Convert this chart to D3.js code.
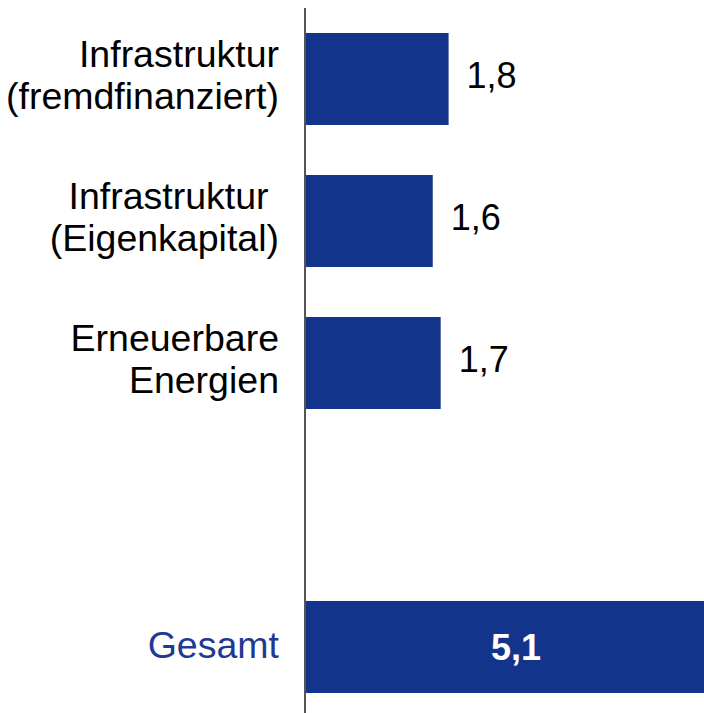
<!DOCTYPE html>
<html>
<head>
<meta charset="utf-8">
<script src="https://cdn.jsdelivr.net/npm/d3@7"></script>
<style>
  body { margin: 0; background: #fff; }
  svg { display: block; font-family: "Liberation Sans", Arial, sans-serif; }
</style>
</head>
<body>
<div id="chart"></div>
<script>
var svgWidth = 704;
var svgHeight = 713;

// categories (line-broken labels), values, value labels
var categories = ["infra_fremd", "infra_eigen", "erneuerbar", "blank", "gesamt"];
var labelLines = [
  ["Infrastruktur", "(fremdfinanziert)"],
  ["Infrastruktur\u00a0", "(Eigenkapital)"],
  ["Erneuerbare", "Energien"],
  [],
  ["Gesamt"]
];
var values = [1.8, 1.6, 1.7, null, 5.1];
var valueLabels = ["1,8", "1,6", "1,7", "", "5,1"];

var barColor = "#12348a";
var axisX = 305;

var svg = d3.select("#chart")
  .append("svg")
  .attr("width", svgWidth)
  .attr("height", svgHeight);

var y = d3.scaleBand()
  .domain(categories)
  .range([8, 718])
  .paddingInner(0.352)
  .paddingOuter(0.176);

var x = d3.scaleLinear()
  .domain([0, 5.1])
  .range([axisX + 1, axisX + 1 + 404]);

var rows = categories.map(function(c, i) {
  return { key: c, lines: labelLines[i], value: values[i], label: valueLabels[i], total: c === "gesamt" };
});

// bars
svg.selectAll("rect.bar")
  .data(rows.filter(d => d.value != null))
  .enter()
  .append("rect")
  .attr("class", "bar")
  .attr("x", x(0))
  .attr("y", d => y(d.key))
  .attr("width", d => x(d.value) - x(0))
  .attr("height", y.bandwidth())
  .attr("fill", barColor);

// vertical axis line
svg.append("line")
  .attr("x1", axisX).attr("x2", axisX)
  .attr("y1", 8).attr("y2", svgHeight)
  .attr("stroke", "#555")
  .attr("stroke-width", 2);

// category labels
var labels = svg.selectAll("text.cat")
  .data(rows.filter(d => d.lines.length))
  .enter()
  .append("text")
  .attr("class", "cat")
  .attr("text-anchor", "end")
  .attr("font-size", "37.5px")
  .attr("fill", d => d.total ? "#1f3a93" : "#000");

labels.each(function(d) {
  var cy = y(d.key) + y.bandwidth() / 2;
  var t = d3.select(this);
  if (d.lines.length === 1) {
    t.append("tspan").attr("x", 279).attr("y", cy + 11).text(d.lines[0]);
  } else {
    t.append("tspan").attr("x", 279).attr("y", cy - 12).text(d.lines[0]);
    t.append("tspan").attr("x", 279).attr("y", cy + 30).text(d.lines[1]);
  }
});

// value labels
svg.selectAll("text.val")
  .data(rows.filter(d => d.value != null))
  .enter()
  .append("text")
  .attr("class", "val")
  .attr("x", d => d.total ? (x(0) + x(d.value)) / 2 + 8 : x(d.value) + 18)
  .attr("y", d => y(d.key) + y.bandwidth() / 2 + (d.total ? 13 : 9))
  .attr("text-anchor", d => d.total ? "middle" : "start")
  .attr("font-size", "36px")
  .attr("font-weight", d => d.total ? "bold" : "normal")
  .attr("fill", d => d.total ? "#fff" : "#000")
  .text(d => d.label);
</script>
</body>
</html>
